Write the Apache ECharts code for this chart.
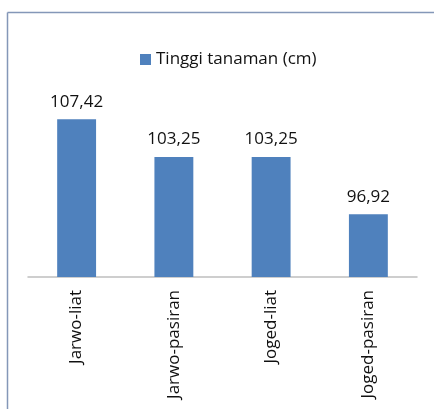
<!DOCTYPE html>
<html>
<head>
<meta charset="utf-8">
<script src="https://cdn.jsdelivr.net/npm/echarts@6/dist/echarts.min.js"></script>
<style>
  html, body { margin: 0; padding: 0; background: #fff; overflow: hidden; }
  #chart { width: 434px; height: 409px; }
</style>
</head>
<body>
<div id="chart"></div>
<script>
var categories = ["Jarwo-liat", "Jarwo-pasiran", "Joged-liat", "Joged-pasiran"];
var values = [107.42, 103.25, 103.25, 96.92];
var seriesName = "Tinggi tanaman (cm)";

var font = "'Open Sans', sans-serif";
var myChart = echarts.init(document.getElementById("chart"));
var option = {
  animation: false,
  // chart area frame: only the left and top edges fall inside the picture
  graphic: [
    {
      type: "line",
      shape: { x1: 7.5, y1: 12.5, x2: 7.5, y2: 409 },
      style: { stroke: "#8497B8", lineWidth: 1.5 },
      silent: true
    },
    {
      type: "line",
      shape: { x1: 7.5, y1: 12.5, x2: 434, y2: 12.5 },
      style: { stroke: "#8497B8", lineWidth: 1.5 },
      silent: true
    }
  ],
  legend: {
    data: [seriesName],
    left: 135,
    top: 46,
    icon: "rect",
    itemWidth: 11,
    itemHeight: 11,
    itemGap: 6,
    textStyle: { fontFamily: font, fontSize: 17, color: "#111" }
  },
  grid: { left: 28, right: 17, top: 96, bottom: 132 },
  xAxis: {
    type: "category",
    data: categories,
    axisLine: { lineStyle: { color: "#BFBFBF", width: 1.5 } },
    axisTick: { show: false },
    axisLabel: {
      rotate: 90,
      margin: 13,
      fontFamily: font,
      fontSize: 17,
      color: "#111"
    }
  },
  yAxis: {
    type: "value",
    min: 90,
    max: 110,
    show: false,
    splitLine: { show: false }
  },
  series: [{
    name: seriesName,
    type: "bar",
    data: values,
    barWidth: "40%",
    itemStyle: { color: "#4F81BD" },
    label: {
      show: true,
      position: "top",
      distance: 9,
      fontFamily: font,
      fontSize: 17,
      color: "#111",
      formatter: function (p) { return p.value.toFixed(2).replace(".", ","); }
    }
  }]
};
myChart.setOption(option);
</script>
</body>
</html>
